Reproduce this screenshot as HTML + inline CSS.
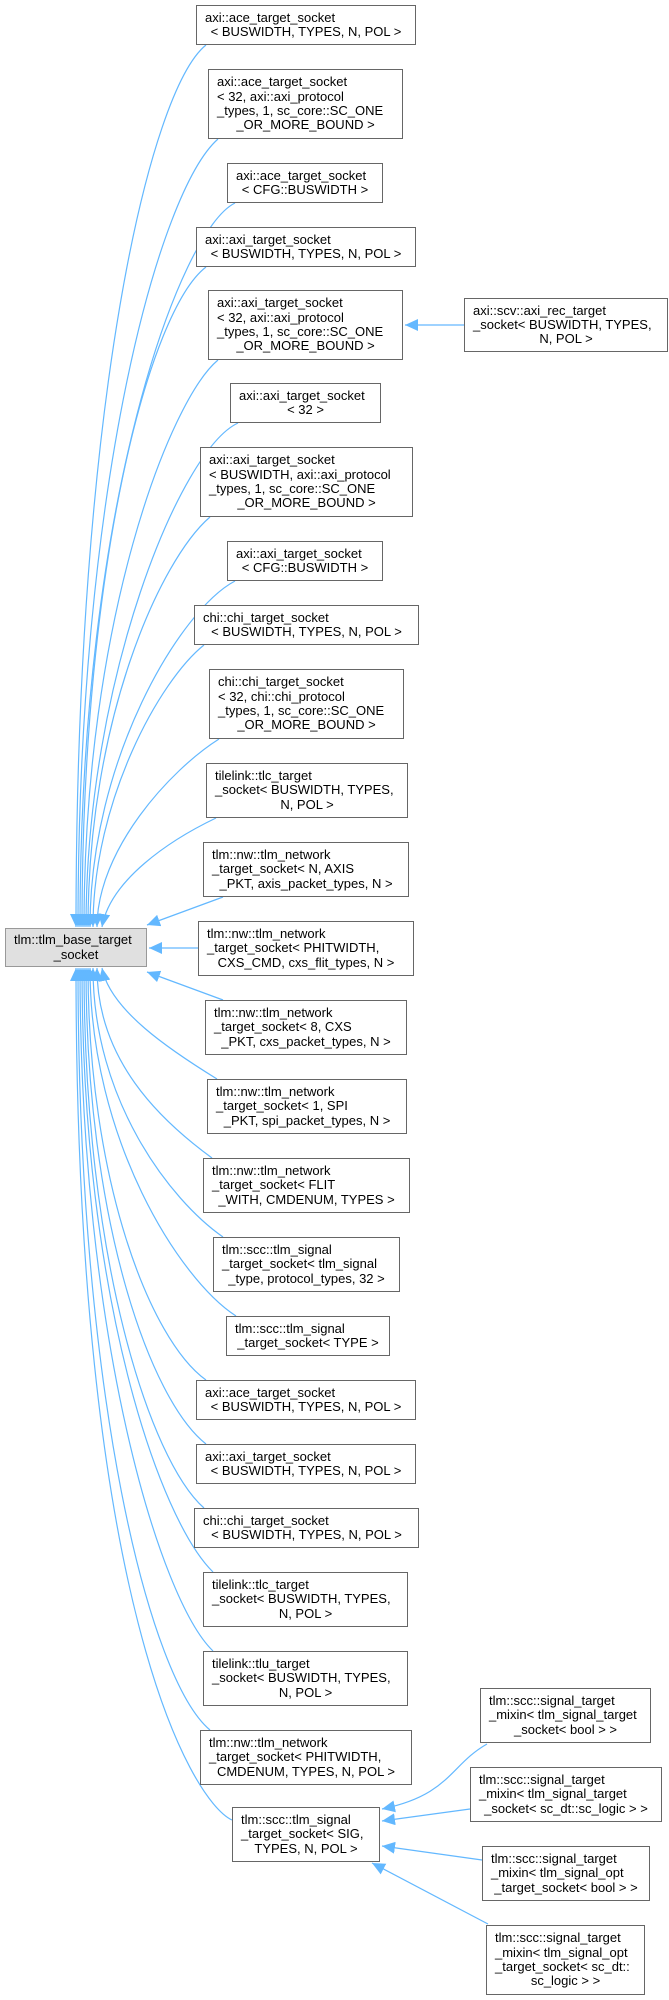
<!DOCTYPE html>
<html><head><meta charset="utf-8">
<style>
html,body{margin:0;padding:0;background:#fff;}
body{width:669px;height:2000px;position:relative;overflow:hidden;font-family:"Liberation Sans",Arial,sans-serif;font-size:13px;color:#000;}
.n{position:absolute;box-sizing:border-box;border:1px solid #666;background:#fff;display:flex;flex-direction:column;justify-content:center;padding:0 8px;line-height:14.3px;white-space:nowrap;}
.n div{text-align:left;}
.n div:last-child{text-align:center;}
.b{background:#e0e0e0;border-color:#999;}
svg{position:absolute;left:0;top:0;}
</style></head><body>
<svg width="669" height="2000" viewBox="0 0 669 2000">
<defs><marker id="a" markerUnits="userSpaceOnUse" markerWidth="14" markerHeight="12" refX="13" refY="6" orient="auto"><path d="M0,0 L13,6 L0,12 z" fill="#63b8ff"/></marker></defs>
<g fill="none" stroke="#63b8ff" stroke-width="1.2" marker-end="url(#a)">
<path d="M206,45 C150,90 76,400 76,927"/>
<path d="M218,139 C160,190 78,480 78,927"/>
<path d="M235,203 C180,230 80,500 80,927"/>
<path d="M206,267 C150,310 82,560 82,927"/>
<path d="M218,360 C170,400 84,620 84,927"/>
<path d="M238,423 C180,450 86,680 86,927"/>
<path d="M210,517 C160,560 88,720 88,927"/>
<path d="M235,581 C180,610 90,760 90,927"/>
<path d="M204,645 C160,680 93,800 93,927"/>
<path d="M219,739 C170,770 97,850 97,927"/>
<path d="M216,818 C170,840 110,880 102,927"/>
<path d="M223,897 L147,925"/>
<path d="M198,948 L149,948"/>
<path d="M223,1000 L147,972"/>
<path d="M217,1079 C170,1050 110,1010 102,968"/>
<path d="M212,1158 C160,1120 97,1060 97,968"/>
<path d="M223,1237 C170,1200 93,1100 93,968"/>
<path d="M236,1316 C180,1280 90,1140 90,968"/>
<path d="M206,1380 C150,1340 88,1180 88,968"/>
<path d="M206,1444 C150,1400 86,1220 86,968"/>
<path d="M204,1508 C150,1460 84,1260 84,968"/>
<path d="M213,1572 C160,1520 82,1300 82,968"/>
<path d="M213,1651 C160,1600 80,1340 80,968"/>
<path d="M210,1730 C150,1680 78,1400 78,968"/>
<path d="M232,1820 C190,1800 76,1600 76,968"/>
<path d="M464,325 L405,325"/>
<path d="M487,1744 C450,1765 450,1795 382,1809"/>
<path d="M470,1809 L382,1821"/>
<path d="M482,1860 L382,1846"/>
<path d="M488,1924 L372,1863"/>
</g>
</svg>
<div class="n b" style="left:5px;top:928px;width:142px;height:39px;"><div>tlm::tlm_base_target</div><div>_socket</div></div>

<div class="n" style="left:196px;top:5px;width:220px;height:40px;"><div>axi::ace_target_socket</div><div>&lt; BUSWIDTH, TYPES, N, POL &gt;</div></div>
<div class="n" style="left:208px;top:69px;width:195px;height:70px;"><div>axi::ace_target_socket</div><div>&lt; 32, axi::axi_protocol</div><div>_types, 1, sc_core::SC_ONE</div><div>_OR_MORE_BOUND &gt;</div></div>
<div class="n" style="left:227px;top:163px;width:156px;height:40px;"><div>axi::ace_target_socket</div><div>&lt; CFG::BUSWIDTH &gt;</div></div>
<div class="n" style="left:196px;top:227px;width:220px;height:40px;"><div>axi::axi_target_socket</div><div>&lt; BUSWIDTH, TYPES, N, POL &gt;</div></div>
<div class="n" style="left:208px;top:290px;width:195px;height:70px;"><div>axi::axi_target_socket</div><div>&lt; 32, axi::axi_protocol</div><div>_types, 1, sc_core::SC_ONE</div><div>_OR_MORE_BOUND &gt;</div></div>
<div class="n" style="left:464px;top:298px;width:204px;height:54px;"><div>axi::scv::axi_rec_target</div><div>_socket&lt; BUSWIDTH, TYPES,</div><div>N, POL &gt;</div></div>
<div class="n" style="left:230px;top:383px;width:151px;height:40px;"><div>axi::axi_target_socket</div><div>&lt; 32 &gt;</div></div>
<div class="n" style="left:200px;top:447px;width:213px;height:70px;"><div>axi::axi_target_socket</div><div>&lt; BUSWIDTH, axi::axi_protocol</div><div>_types, 1, sc_core::SC_ONE</div><div>_OR_MORE_BOUND &gt;</div></div>
<div class="n" style="left:227px;top:541px;width:156px;height:40px;"><div>axi::axi_target_socket</div><div>&lt; CFG::BUSWIDTH &gt;</div></div>
<div class="n" style="left:194px;top:605px;width:225px;height:40px;"><div>chi::chi_target_socket</div><div>&lt; BUSWIDTH, TYPES, N, POL &gt;</div></div>
<div class="n" style="left:209px;top:669px;width:195px;height:70px;"><div>chi::chi_target_socket</div><div>&lt; 32, chi::chi_protocol</div><div>_types, 1, sc_core::SC_ONE</div><div>_OR_MORE_BOUND &gt;</div></div>
<div class="n" style="left:206px;top:763px;width:202px;height:55px;"><div>tilelink::tlc_target</div><div>_socket&lt; BUSWIDTH, TYPES,</div><div>N, POL &gt;</div></div>
<div class="n" style="left:203px;top:842px;width:206px;height:55px;"><div>tlm::nw::tlm_network</div><div>_target_socket&lt; N, AXIS</div><div>_PKT, axis_packet_types, N &gt;</div></div>
<div class="n" style="left:198px;top:921px;width:216px;height:55px;"><div>tlm::nw::tlm_network</div><div>_target_socket&lt; PHITWIDTH,</div><div>CXS_CMD, cxs_flit_types, N &gt;</div></div>
<div class="n" style="left:205px;top:1000px;width:202px;height:55px;"><div>tlm::nw::tlm_network</div><div>_target_socket&lt; 8, CXS</div><div>_PKT, cxs_packet_types, N &gt;</div></div>
<div class="n" style="left:207px;top:1079px;width:200px;height:55px;"><div>tlm::nw::tlm_network</div><div>_target_socket&lt; 1, SPI</div><div>_PKT, spi_packet_types, N &gt;</div></div>
<div class="n" style="left:203px;top:1158px;width:207px;height:55px;"><div>tlm::nw::tlm_network</div><div>_target_socket&lt; FLIT</div><div>_WITH, CMDENUM, TYPES &gt;</div></div>
<div class="n" style="left:213px;top:1237px;width:187px;height:55px;"><div>tlm::scc::tlm_signal</div><div>_target_socket&lt; tlm_signal</div><div>_type, protocol_types, 32 &gt;</div></div>
<div class="n" style="left:226px;top:1316px;width:164px;height:40px;"><div>tlm::scc::tlm_signal</div><div>_target_socket&lt; TYPE &gt;</div></div>
<div class="n" style="left:196px;top:1380px;width:220px;height:40px;"><div>axi::ace_target_socket</div><div>&lt; BUSWIDTH, TYPES, N, POL &gt;</div></div>
<div class="n" style="left:196px;top:1444px;width:220px;height:40px;"><div>axi::axi_target_socket</div><div>&lt; BUSWIDTH, TYPES, N, POL &gt;</div></div>
<div class="n" style="left:194px;top:1508px;width:225px;height:40px;"><div>chi::chi_target_socket</div><div>&lt; BUSWIDTH, TYPES, N, POL &gt;</div></div>
<div class="n" style="left:203px;top:1572px;width:205px;height:55px;"><div>tilelink::tlc_target</div><div>_socket&lt; BUSWIDTH, TYPES,</div><div>N, POL &gt;</div></div>
<div class="n" style="left:203px;top:1651px;width:205px;height:55px;"><div>tilelink::tlu_target</div><div>_socket&lt; BUSWIDTH, TYPES,</div><div>N, POL &gt;</div></div>
<div class="n" style="left:200px;top:1730px;width:212px;height:55px;"><div>tlm::nw::tlm_network</div><div>_target_socket&lt; PHITWIDTH,</div><div>CMDENUM, TYPES, N, POL &gt;</div></div>
<div class="n" style="left:232px;top:1807px;width:148px;height:55px;"><div>tlm::scc::tlm_signal</div><div>_target_socket&lt; SIG,</div><div>TYPES, N, POL &gt;</div></div>

<div class="n" style="left:480px;top:1688px;width:171px;height:55px;"><div>tlm::scc::signal_target</div><div>_mixin&lt; tlm_signal_target</div><div>_socket&lt; bool &gt; &gt;</div></div>
<div class="n" style="left:470px;top:1767px;width:192px;height:55px;"><div>tlm::scc::signal_target</div><div>_mixin&lt; tlm_signal_target</div><div>_socket&lt; sc_dt::sc_logic &gt; &gt;</div></div>
<div class="n" style="left:482px;top:1846px;width:168px;height:55px;"><div>tlm::scc::signal_target</div><div>_mixin&lt; tlm_signal_opt</div><div>_target_socket&lt; bool &gt; &gt;</div></div>
<div class="n" style="left:486px;top:1925px;width:159px;height:70px;"><div>tlm::scc::signal_target</div><div>_mixin&lt; tlm_signal_opt</div><div>_target_socket&lt; sc_dt::</div><div>sc_logic &gt; &gt;</div></div>
</body></html>
